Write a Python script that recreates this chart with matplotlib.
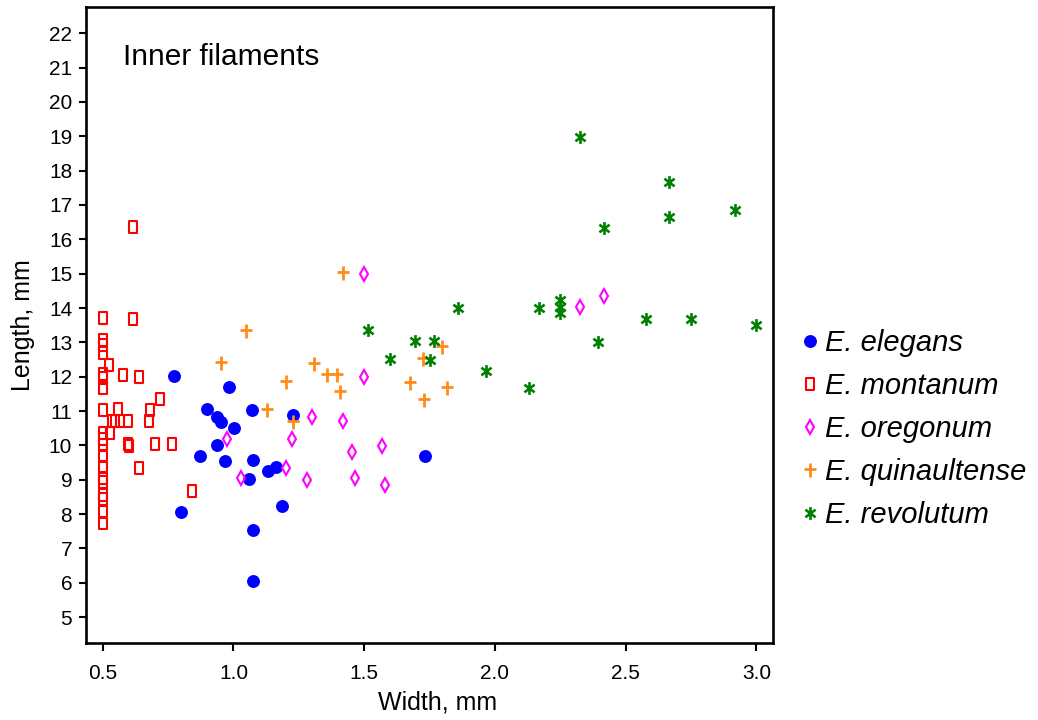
import matplotlib
matplotlib.use("Agg")
import matplotlib.pyplot as plt
from matplotlib.path import Path
from matplotlib.ticker import FormatStrFormatter

plt.rcParams["font.family"] = ["Liberation Sans", "DejaVu Sans"]

# Filament width (mm) and length (mm) per species
elegans_w = [0.774, 0.982, 0.900, 0.936, 0.954, 1.070, 1.003, 1.229, 0.936, 0.871,
             0.969, 1.075, 1.131, 1.163, 1.061, 1.732, 1.186, 0.800, 1.075, 1.075]
elegans_l = [12.02, 11.69, 11.06, 10.84, 10.69, 11.02, 10.52, 10.88, 10.02, 9.69,
             9.56, 9.59, 9.25, 9.36, 9.03, 9.69, 8.25, 8.06, 7.53, 6.06]

montanum_w = [0.615, 0.500, 0.615, 0.500, 0.500, 0.500, 0.525, 0.500, 0.500, 0.500,
              0.579, 0.640, 0.717, 0.500, 0.560, 0.680, 0.678, 0.537, 0.548, 0.567,
              0.598, 0.528, 0.500, 0.500, 0.597, 0.599, 0.699, 0.766, 0.500, 0.500,
              0.640, 0.500, 0.500, 0.500, 0.500, 0.500, 0.500, 0.840, 0.500]
montanum_l = [16.37, 13.70, 13.67, 13.07, 12.92, 12.68, 12.34, 12.08, 11.95, 11.67,
              12.04, 12.00, 11.35, 11.03, 11.06, 11.03, 10.72, 10.72, 10.72, 10.72,
              10.72, 10.37, 10.37, 10.01, 10.03, 9.98, 10.04, 10.04, 9.69, 9.38,
              9.33, 9.04, 8.95, 8.55, 8.45, 8.07, 7.73, 8.67, 10.20]

oregonum_w = [1.498, 1.302, 1.420, 0.976, 1.225, 1.453, 1.567, 1.199, 1.028, 1.280,
              1.466, 1.580, 1.500, 2.326, 2.418]
oregonum_l = [12.00, 10.84, 10.71, 10.19, 10.19, 9.82, 9.99, 9.34, 9.04, 8.99,
              9.04, 8.85, 14.99, 14.04, 14.36]

quinaultense_w = [1.419, 1.046, 0.951, 1.309, 1.359, 1.396, 1.201, 1.407, 1.127, 1.227,
                  1.726, 1.797, 1.677, 1.816, 1.730]
quinaultense_l = [15.03, 13.33, 12.39, 12.37, 12.04, 12.04, 11.84, 11.55, 11.03, 10.69,
                  12.52, 12.86, 11.81, 11.66, 11.32]

revolutum_w = [2.327, 2.665, 2.665, 2.920, 2.419, 1.859, 2.168, 2.250, 2.250, 2.250,
               2.578, 2.751, 3.000, 2.396, 1.695, 1.766, 1.750, 1.966, 2.130, 1.516,
               1.600]
revolutum_l = [18.98, 17.66, 16.66, 16.84, 16.32, 13.99, 13.99, 14.23, 14.04, 13.85,
               13.67, 13.67, 13.51, 13.02, 13.04, 13.04, 12.49, 12.17, 11.66, 13.36,
               12.52]

species = ["E. elegans", "E. montanum", "E. oregonum", "E. quinaultense", "E. revolutum"]
colors = ["#0000FF", "#FF0000", "#FF00FF", "#FF8C1A", "#008000"]
x_ticks = [0.5, 1.0, 1.5, 2.0, 2.5, 3.0]
y_ticks = list(range(5, 23))

# Marker shapes
M, L, C = Path.MOVETO, Path.LINETO, Path.CLOSEPOLY
tall_box = Path([(-0.33, -0.5), (0.33, -0.5), (0.33, 0.5), (-0.33, 0.5), (-0.33, -0.5)],
                [M, L, L, L, C])
tall_plus = Path([(0, -0.5), (0, 0.5), (-0.38, 0.05), (0.38, 0.05)], [M, L, M, L])
star6 = Path([(0, -0.5), (0, 0.5), (-0.4, -0.3), (0.4, 0.3), (-0.4, 0.3), (0.4, -0.3)],
             [M, L, M, L, M, L])

fig = plt.figure(figsize=(10.38, 7.2), dpi=100)
ax = fig.add_axes([0.0829, 0.1065, 0.6621, 0.8842])

ax.plot(elegans_w, elegans_l, linestyle="none", marker="o", markersize=9.3,
        markerfacecolor=colors[0], markeredgecolor=colors[0], markeredgewidth=0,
        label=species[0])
ax.plot(montanum_w, montanum_l, linestyle="none", marker=tall_box, markersize=8.0,
        markerfacecolor="none", markeredgecolor=colors[1], markeredgewidth=1.5,
        label=species[1])
ax.plot(oregonum_w, oregonum_l, linestyle="none", marker="d", markersize=7.6,
        markerfacecolor="none", markeredgecolor=colors[2], markeredgewidth=1.5,
        label=species[2])
ax.plot(quinaultense_w, quinaultense_l, linestyle="none", marker=tall_plus, markersize=10.5,
        markerfacecolor="none", markeredgecolor=colors[3], markeredgewidth=2.0,
        label=species[3])
ax.plot(revolutum_w, revolutum_l, linestyle="none", marker=star6, markersize=9.2,
        markerfacecolor="none", markeredgecolor=colors[4], markeredgewidth=1.9,
        label=species[4])

ax.set_xlim(0.436, 3.065)
ax.set_ylim(4.24, 22.77)
ax.set_xticks(x_ticks)
ax.set_yticks(y_ticks)
ax.xaxis.set_major_formatter(FormatStrFormatter("%.1f"))

for s in ax.spines.values():
    s.set_linewidth(1.9)
ax.tick_params(axis="x", direction="out", length=6, width=1.5, pad=9, labelsize=15)
ax.tick_params(axis="y", direction="out", length=5, width=1.5, pad=5, labelsize=15)

ax.set_xlabel("Width, mm", fontsize=18, labelpad=8)
ax.xaxis.set_label_coords(0.511, -0.074)
ax.set_ylabel("Length, mm", fontsize=18, labelpad=10)

ax.text(0.578, 21.07, "Inner filaments", fontsize=21.5, va="baseline", ha="left")

leg = ax.legend(loc="center left", bbox_to_anchor=(0.772, 0.4041),
                bbox_transform=fig.transFigure, frameon=False,
                prop={"style": "italic", "size": 21},
                handlelength=0.6, handletextpad=0.2, labelspacing=0.51,
                borderpad=0, borderaxespad=0)

fig.savefig("out.png", dpi=100)
